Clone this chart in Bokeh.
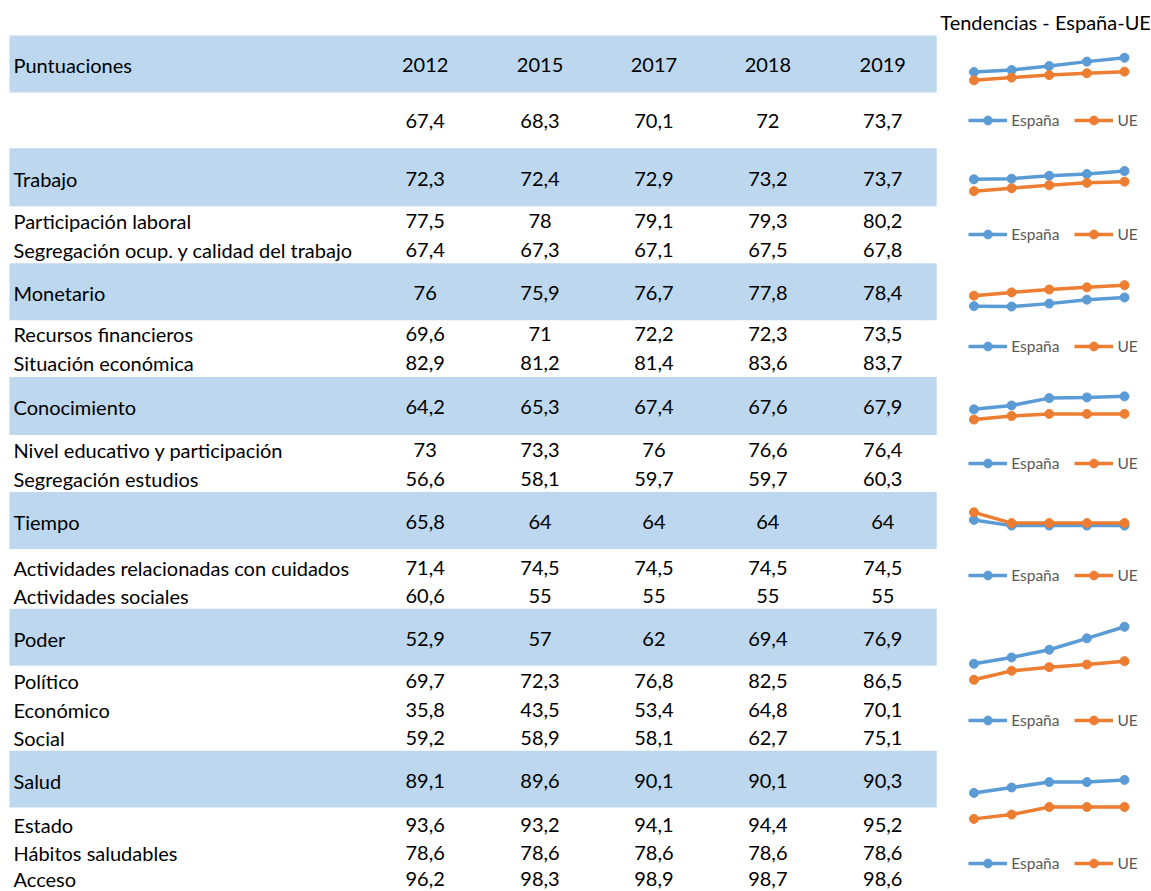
from bokeh.plotting import figure
from bokeh.models import Range1d, Legend, LegendItem
from bokeh.core.properties import value
from bokeh.embed import file_html
from bokeh.resources import INLINE

# ------------------------------------------------------------------ data
years = ["2012", "2015", "2017", "2018", "2019"]
header_label = "Puntuaciones"
title_text = "Tendencias - España-UE"
series_names = ["España", "UE"]

index_label = ""
index_values = [67.4, 68.3, 70.1, 72.0, 73.7]

domains = ["Trabajo", "Monetario", "Conocimiento", "Tiempo", "Poder", "Salud"]
trabajo = [72.3, 72.4, 72.9, 73.2, 73.7]
monetario = [76.0, 75.9, 76.7, 77.8, 78.4]
conocimiento = [64.2, 65.3, 67.4, 67.6, 67.9]
tiempo = [65.8, 64.0, 64.0, 64.0, 64.0]
poder = [52.9, 57.0, 62.0, 69.4, 76.9]
salud = [89.1, 89.6, 90.1, 90.1, 90.3]

trabajo_sub = ["Participación laboral", "Segregación ocup. y calidad del trabajo"]
trabajo_sub_values = [[77.5, 78.0, 79.1, 79.3, 80.2], [67.4, 67.3, 67.1, 67.5, 67.8]]
monetario_sub = ["Recursos financieros", "Situación económica"]
monetario_sub_values = [[69.6, 71.0, 72.2, 72.3, 73.5], [82.9, 81.2, 81.4, 83.6, 83.7]]
conocimiento_sub = ["Nivel educativo y participación", "Segregación estudios"]
conocimiento_sub_values = [[73.0, 73.3, 76.0, 76.6, 76.4], [56.6, 58.1, 59.7, 59.7, 60.3]]
tiempo_sub = ["Actividades relacionadas con cuidados", "Actividades sociales"]
tiempo_sub_values = [[71.4, 74.5, 74.5, 74.5, 74.5], [60.6, 55.0, 55.0, 55.0, 55.0]]
poder_sub = ["Político", "Económico", "Social"]
poder_sub_values = [[69.7, 72.3, 76.8, 82.5, 86.5], [35.8, 43.5, 53.4, 64.8, 70.1], [59.2, 58.9, 58.1, 62.7, 75.1]]
salud_sub = ["Estado", "Hábitos saludables", "Acceso"]
salud_sub_values = [[93.6, 93.2, 94.1, 94.4, 95.2], [78.6, 78.6, 78.6, 78.6, 78.6], [96.2, 98.3, 98.9, 98.7, 98.6]]

# EU trend values (read from the sparklines)
ue_index = [63.8, 65.0, 66.1, 66.9, 67.6]
ue_trabajo = [70.3, 70.8, 71.3, 71.7, 71.9]
ue_monetario = [78.9, 79.8, 80.6, 81.2, 81.8]
ue_conocimiento = [61.3, 62.3, 62.9, 62.9, 62.9]
ue_tiempo = [68.2, 64.8, 64.8, 64.8, 64.8]
ue_poder = [42.5, 48.3, 50.7, 52.4, 54.6]
ue_salud = [86.7, 87.1, 87.8, 87.8, 87.8]

# ------------------------------------------------------------------ layout / style
W_PX, H_PX = 1150, 890
X0, X1 = 0, 1151          # reference-pixel coordinate frame
Y_TOP, Y_BOT = 0, 891
BAND = "#BDD7EE"
BLUE = "#5B9BD5"
ORANGE = "#ED7D31"
FONT = "Lato"
FS = "20px"

band_left, band_right = 9, 937
label_x = 13
col_x = [425, 540, 654, 768, 883]
header_band = (35, 92)
header_y = 65
index_y = 121
domain_bands = [(148, 206), (263, 320), (377, 435), (492, 549), (609, 666), (751, 808)]
domain_y = [179, 293, 407, 522, 639, 781]
sub_y = [[221, 250], [334, 363], [450, 479], [568, 596], [681, 710, 738], [825, 853, 879]]

spark_x_first, spark_x_last = 974.3, 1125.0
spark_anchor_y = [(71.7, 57.3), (179.0, 170.7), (306.0, 297.3), (409.3, 396.3),
                  (520.0, 525.7), (664.0, 627.0), (793.3, 780.3)]
legend_center_y = [120, 234.3, 346.7, 464, 575.7, 721, 864.3]
legend_left_x = 969
title_pos = (1046, 22)


def fmt(v):
    s = f"{v:.1f}"
    if s.endswith(".0"):
        s = s[:-2]
    return s.replace(".", ",")


domain_values = [trabajo, monetario, conocimiento, tiempo, poder, salud]
sub_labels = [trabajo_sub, monetario_sub, conocimiento_sub, tiempo_sub, poder_sub, salud_sub]
sub_values = [trabajo_sub_values, monetario_sub_values, conocimiento_sub_values,
              tiempo_sub_values, poder_sub_values, salud_sub_values]
spain_trends = [index_values] + domain_values
ue_trends = [ue_index, ue_trabajo, ue_monetario, ue_conocimiento, ue_tiempo, ue_poder, ue_salud]

p = figure(width=W_PX, height=H_PX, x_range=Range1d(X0, X1), y_range=Range1d(Y_BOT, Y_TOP),
           output_backend="svg", toolbar_location=None, min_border=0,
           x_axis_location=None, y_axis_location=None)
p.grid.visible = False
p.outline_line_color = None
p.background_fill_color = "white"
p.border_fill_color = "white"

# bands
bands = [header_band] + domain_bands
p.quad(left=[band_left] * len(bands), right=[band_right] * len(bands),
       top=[b[0] for b in bands], bottom=[b[1] for b in bands],
       fill_color=BAND, line_color=None)

# texts
lab_txt, lab_y = [header_label, index_label], [header_y, index_y]
val_txt, val_x, val_y = [], [], []
for j, yv in enumerate(years):
    val_txt.append(yv); val_x.append(col_x[j]); val_y.append(header_y)
for j, v in enumerate(index_values):
    val_txt.append(fmt(v)); val_x.append(col_x[j]); val_y.append(index_y)
for d, name in enumerate(domains):
    lab_txt.append(name); lab_y.append(domain_y[d])
    for j, v in enumerate(domain_values[d]):
        val_txt.append(fmt(v)); val_x.append(col_x[j]); val_y.append(domain_y[d])
    for k, sl in enumerate(sub_labels[d]):
        lab_txt.append(sl); lab_y.append(sub_y[d][k])
        for j, v in enumerate(sub_values[d][k]):
            val_txt.append(fmt(v)); val_x.append(col_x[j]); val_y.append(sub_y[d][k])

p.text(x=[label_x] * len(lab_txt), y=lab_y, text=lab_txt, text_align="left",
       text_baseline="middle", text_font=value(FONT), text_font_size=FS, text_color="#000000")
p.text(x=val_x, y=val_y, text=val_txt, text_align="center",
       text_baseline="middle", text_font=value(FONT), text_font_size=FS, text_color="#000000")

# title
p.text(x=[title_pos[0]], y=[title_pos[1]], text=[title_text], text_align="center",
       text_baseline="middle", text_font=value(FONT), text_font_size=FS, text_color="#000000")

# sparklines
dx = (spark_x_last - spark_x_first) / (len(years) - 1)
p.extra_x_ranges["spark"] = Range1d((X0 - spark_x_first) / dx, (X1 - spark_x_first) / dx)
idx = list(range(len(years)))

sx_scale = W_PX / (X1 - X0)
sy_scale = H_PX / (Y_BOT - Y_TOP)
LEG_H = 22

for g in range(len(spain_trends)):
    es, ue = spain_trends[g], ue_trends[g]
    yA, yB = spark_anchor_y[g]
    vA, vB = es[0], es[-1]
    s = (yA - yB) / (vB - vA)
    name = f"g{g}"
    p.extra_y_ranges[name] = Range1d(vA + (yA - Y_BOT) / s, vA + (yA - Y_TOP) / s)
    l1 = p.line(idx, es, x_range_name="spark", y_range_name=name, line_color=BLUE, line_width=3.5)
    m1 = p.scatter(idx, es, x_range_name="spark", y_range_name=name, size=9,
                   fill_color=BLUE, line_color=BLUE)
    l2 = p.line(idx, ue, x_range_name="spark", y_range_name=name, line_color=ORANGE, line_width=3.5)
    m2 = p.scatter(idx, ue, x_range_name="spark", y_range_name=name, size=9,
                   fill_color=ORANGE, line_color=ORANGE)
    lx = (legend_left_x - X0) * sx_scale
    ly = (Y_BOT - legend_center_y[g]) * sy_scale - LEG_H / 2
    leg = Legend(items=[LegendItem(label=series_names[0], renderers=[l1, m1]),
                        LegendItem(label=series_names[1], renderers=[l2, m2])],
                 location=(lx, ly), orientation="horizontal",
                 glyph_width=39, glyph_height=LEG_H, label_height=LEG_H, label_width=10,
                 label_standoff=4, spacing=15, padding=0, margin=0,
                 border_line_color=None, background_fill_alpha=0,
                 label_text_font=FONT, label_text_font_size="15.5px",
                 label_text_color="#595959")
    p.add_layout(leg, "center")

open("out.html", "w").write(file_html(p, INLINE))
